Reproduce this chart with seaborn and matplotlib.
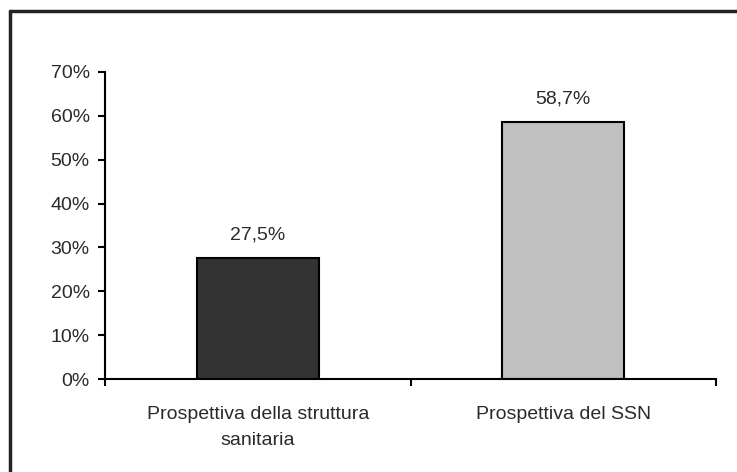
import matplotlib.pyplot as plt
import seaborn as sns
import pandas as pd
from matplotlib.lines import Line2D
from matplotlib.ticker import PercentFormatter

# Data
categories = ['Prospettiva della struttura\nsanitaria', 'Prospettiva del SSN']
values = [0.275, 0.587]
value_labels = ['27,5%', '58,7%']
bar_colors = ['#333333', '#c0c0c0']

df = pd.DataFrame({'categoria': categories, 'valore': values})

sns.set_style('white')
plt.rcParams['font.family'] = ['Liberation Sans', 'DejaVu Sans']
fs = 14
tc = '#2a2a2a'

fig = plt.figure(figsize=(7.37, 4.72), dpi=100)
ax = fig.add_axes([105 / 737, 1 - 379 / 472, (716 - 105) / 737, (379 - 72) / 472])

sns.barplot(data=df, x='categoria', y='valore', hue='categoria', palette=bar_colors,
            width=0.4, edgecolor='black', linewidth=1.5, legend=False, ax=ax)

ax.set_ylim(0, 0.7)
ax.set_xlim(-0.5, 1.5)
ax.set_yticks([i / 10 for i in range(8)])
ax.yaxis.set_major_formatter(PercentFormatter(1.0, decimals=0))
ax.set_xticks([-0.5, 0.5, 1.5])
ax.set_xticklabels([])
ax.set_xlabel('')
ax.set_ylabel('')

# category labels below axis
for i, cat in enumerate(categories):
    ax.text(i, -0.062, cat, ha='center', va='top', fontsize=fs, color=tc,
            linespacing=1.7)

# value labels over bars
for i, (v, lab) in enumerate(zip(values, value_labels)):
    ax.text(i, v + 0.033, lab, ha='center', va='bottom', fontsize=fs, color=tc)

for s in ['top', 'right']:
    ax.spines[s].set_visible(False)
for s in ['left', 'bottom']:
    ax.spines[s].set_color('black')
    ax.spines[s].set_linewidth(1.5)
ax.tick_params(axis='both', direction='out', length=5, width=1.5, color='black',
               left=True, bottom=True)
ax.tick_params(axis='y', labelsize=fs, labelcolor=tc, pad=6)

# outer frame (left and top edges visible)
fig.add_artist(Line2D([9.5 / 737, 9.5 / 737], [0, 1 - 10.5 / 472], color='#222222',
                      linewidth=2.5, transform=fig.transFigure))
fig.add_artist(Line2D([9.5 / 737, 1], [1 - 10.5 / 472, 1 - 10.5 / 472], color='#222222',
                      linewidth=2.5, transform=fig.transFigure))

fig.savefig('out.png', dpi=100)
